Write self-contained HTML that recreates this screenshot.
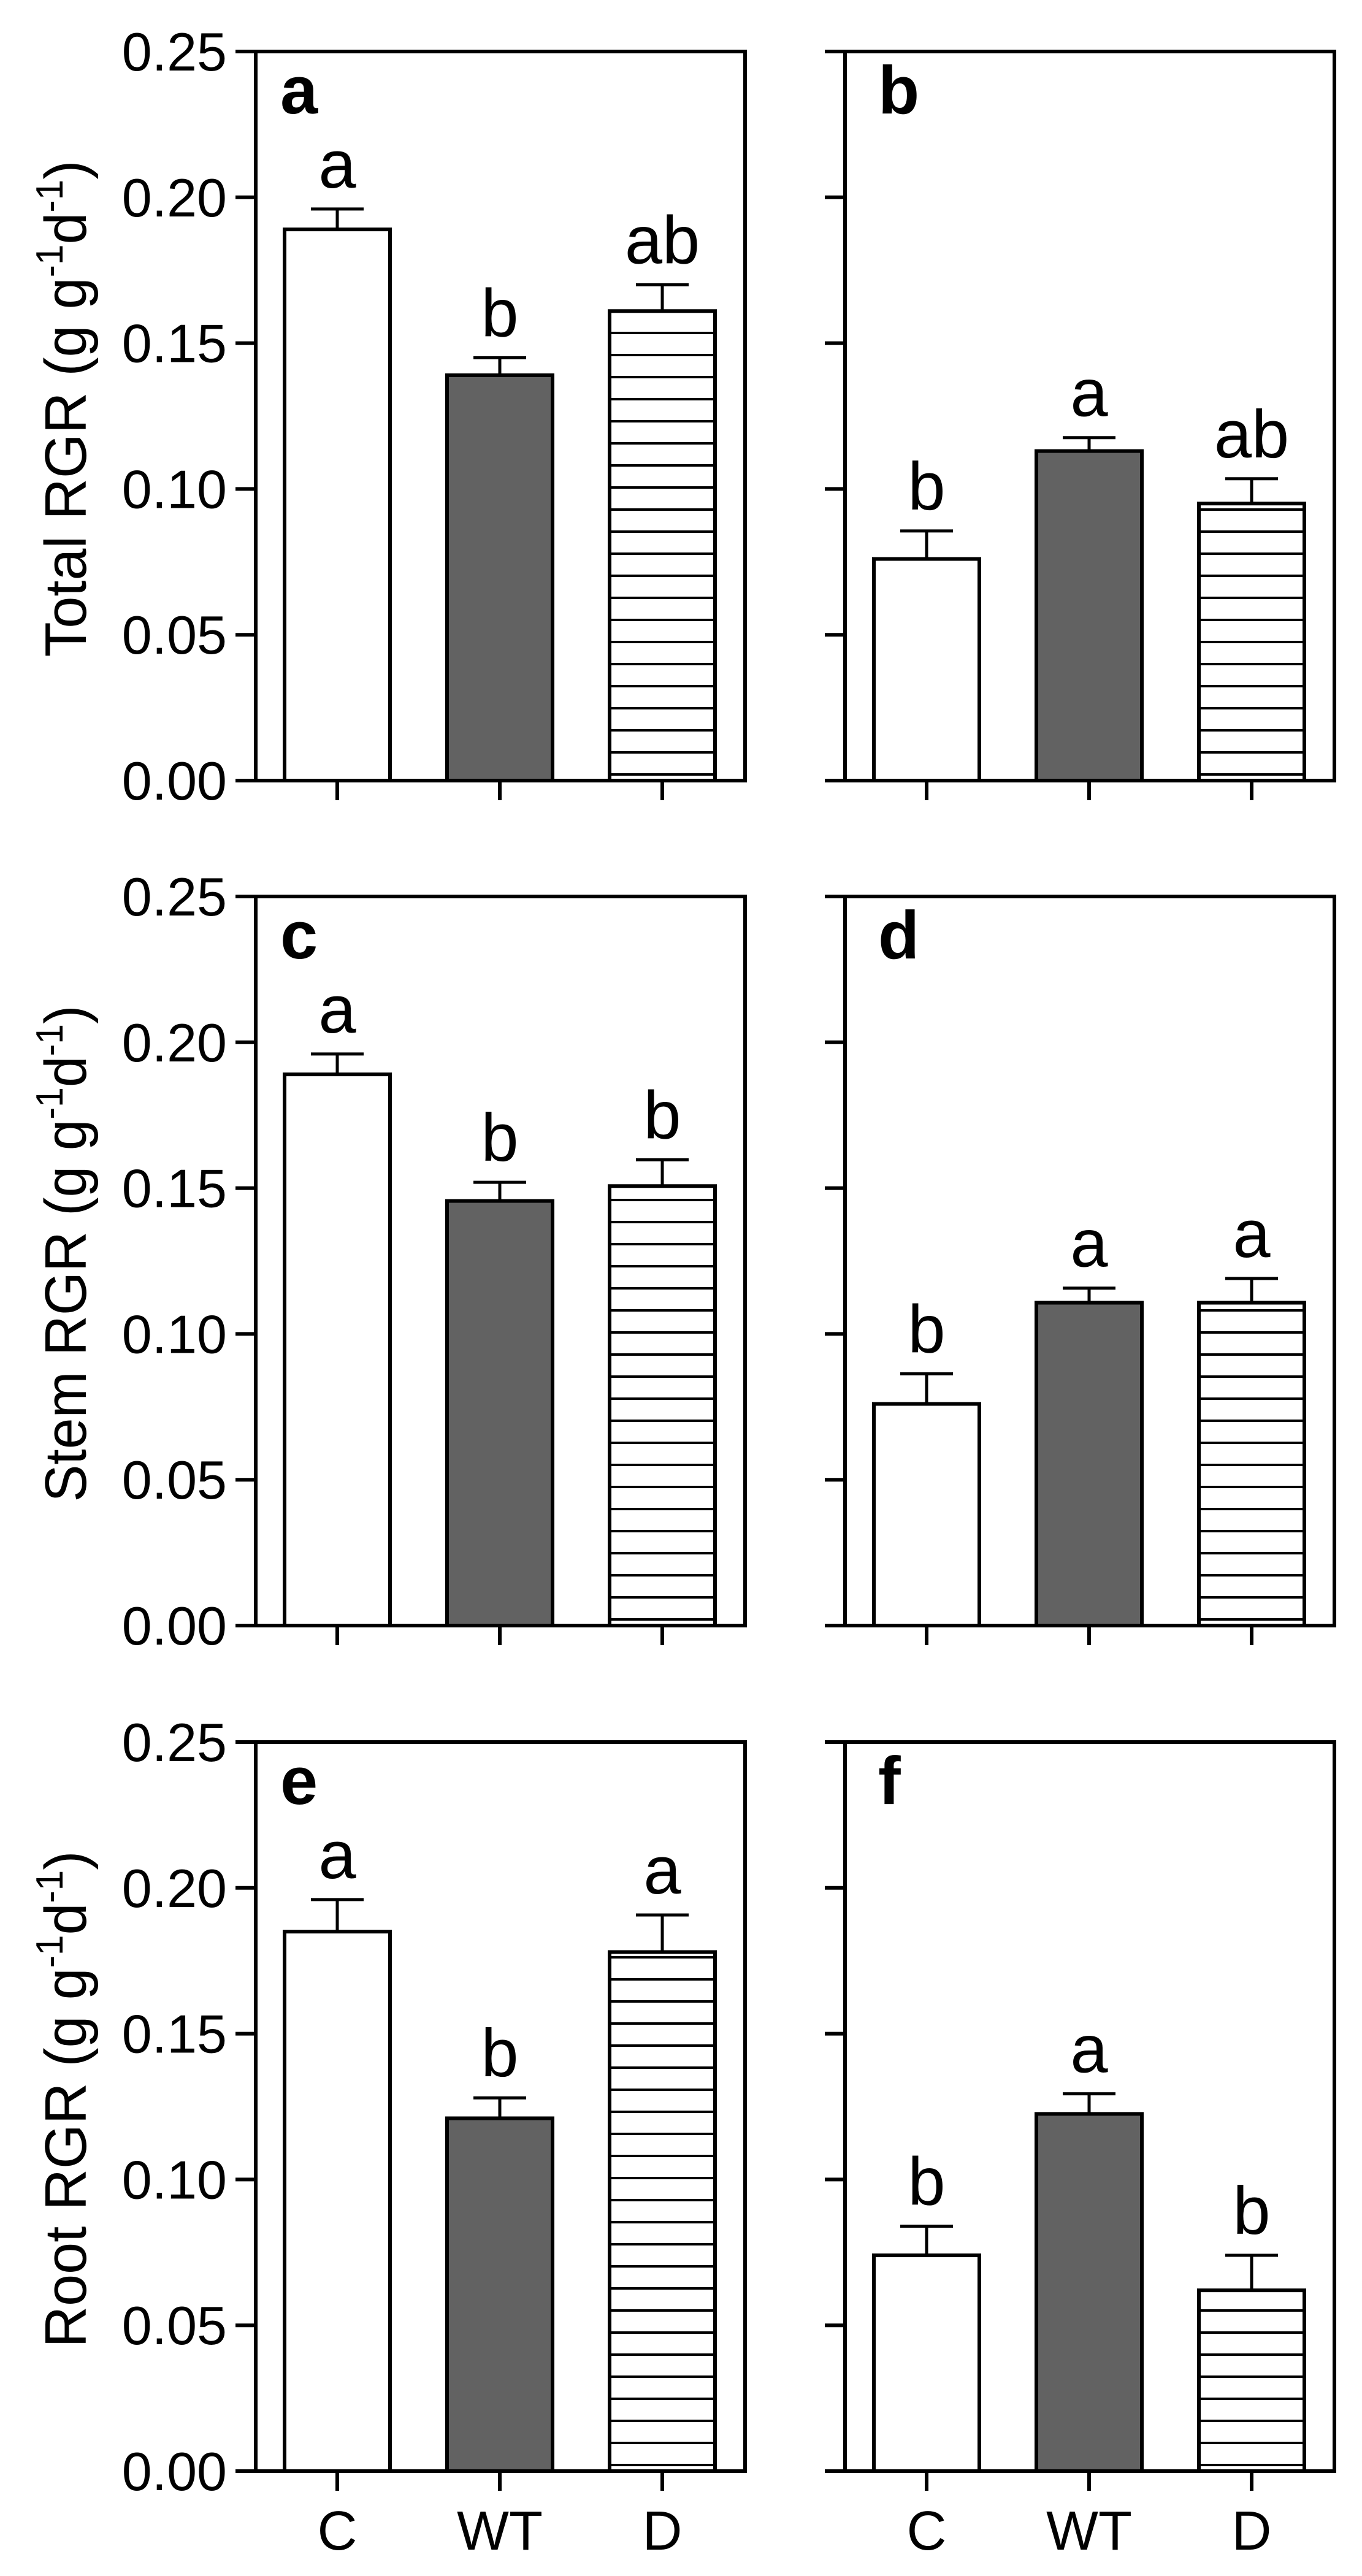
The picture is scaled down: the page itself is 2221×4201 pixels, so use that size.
<!DOCTYPE html>
<html><head><meta charset="utf-8"><style>
html,body{margin:0;padding:0;background:#fff;}
svg{display:block;font-family:"Liberation Sans",Arial,sans-serif;}
</style></head><body>
<svg id="fig" width="2221" height="4201" viewBox="0 0 2221 4201" xmlns="http://www.w3.org/2000/svg">
<defs>
<pattern id="hatch" patternUnits="userSpaceOnUse" width="40" height="36" y="0">
<rect x="0" y="0" width="40" height="4" fill="#000"/>
</pattern>
</defs>
</svg>
<script>
const categories = ["C", "WT", "D"];
const panelLetters = ["a", "b", "c", "d", "e", "f"];
const meanA = [0.189, 0.139, 0.161];
const errA = [0.196, 0.145, 0.170];
const sigA = ["a", "b", "ab"];
const meanB = [0.076, 0.113, 0.095];
const errB = [0.0856, 0.1176, 0.1035];
const sigB = ["b", "a", "ab"];
const meanC = [0.189, 0.1456, 0.1507];
const errC = [0.196, 0.152, 0.1597];
const sigC = ["a", "b", "b"];
const meanD = [0.076, 0.1107, 0.1107];
const errD = [0.0863, 0.1157, 0.119];
const sigD = ["b", "a", "a"];
const meanE = [0.185, 0.121, 0.178];
const errE = [0.196, 0.128, 0.1907];
const sigE = ["a", "b", "a"];
const meanF = [0.074, 0.1225, 0.062];
const errF = [0.084, 0.1294, 0.074];
const sigF = ["b", "a", "b"];
const yTicks = [0, 0.05, 0.10, 0.15, 0.20, 0.25];
const yTickLabels = ["0.00", "0.05", "0.10", "0.15", "0.20", "0.25"];
const yTitles = ["Total RGR", "Stem RGR", "Root RGR"];

const NS = "http://www.w3.org/2000/svg";
const svg = document.getElementById("fig");
function mk(tag, attrs, parent) {
  const e = document.createElementNS(NS, tag);
  for (const k in attrs) e.setAttribute(k, attrs[k]);
  (parent || svg).appendChild(e);
  return e;
}
const means = [meanA, meanB, meanC, meanD, meanE, meanF];
const errs = [errA, errB, errC, errD, errE, errF];
const sigs = [sigA, sigB, sigC, sigD, sigE, sigF];
const colX = [417, 1378];
const rowTop = [84, 1462, 2841];
const W = 798, H = 1189, YMAX = 0.25;
const letterOff = [40, 54];
const fills = ["#ffffff", "#626262", "url(#hatch)"];
const barNames = ["bar-c", "bar-wt", "bar-d"];

for (let p = 0; p < 6; p++) {
  const col = p % 2, row = Math.floor(p / 2);
  const x0 = colX[col], y0 = rowTop[row], yb = y0 + H;
  const yScale = v => yb - (v / YMAX) * H;
  const xScale = i => x0 + 133 + i * 265;
  const g = mk("g", {});
  
  

  // bars
  for (let i = 0; i < 3; i++) {
    const cx = xScale(i), top = yScale(means[p][i]), cap = yScale(errs[p][i]);
    const eb = mk("line", {x1: cx, x2: cx, y1: top, y2: cap, stroke: "#000", "stroke-width": 5}, g);
    
    
    mk("line", {x1: cx - 43, x2: cx + 43, y1: cap, y2: cap, stroke: "#000", "stroke-width": 5}, g);
    if (i === 2) {
      const pid = "hatch" + p;
      const pat = mk("pattern", {id: pid, patternUnits: "userSpaceOnUse", width: 200, height: 36, x: 0, y: (yb - 12) % 36}, svg.querySelector("defs"));
      mk("rect", {x: 0, y: 0, width: 200, height: 4, fill: "#000"}, pat);
      const b = mk("rect", {x: cx - 86, y: top, width: 172, height: yb - top, fill: "#fff", stroke: "none"}, g);
      
      
      const h = mk("rect", {x: cx - 86, y: top, width: 172, height: yb - top, fill: "url(#" + pid + ")", stroke: "#000", "stroke-width": 6}, g);
      
      
    } else {
      const b = mk("rect", {x: cx - 86, y: top, width: 172, height: yb - top, fill: fills[i], stroke: "#000", "stroke-width": 6}, g);
      
      
    }
    const s = mk("text", {x: cx, y: cap - 35, "font-size": 110, "text-anchor": "middle"}, g);
    s.textContent = sigs[p][i];
    
    
    // x ticks
    mk("line", {x1: cx, x2: cx, y1: yb, y2: yb + 32, stroke: "#000", "stroke-width": 6}, g);
    if (row === 2) {
      const xl = mk("text", {x: cx, y: 4158, "font-size": 90, "text-anchor": "middle"}, g);
      xl.textContent = categories[i];
      
      
    }
  }
  // frame
  const fr = mk("rect", {x: x0, y: y0, width: W, height: H, fill: "none", stroke: "#000", "stroke-width": 6}, g);
  
  
  // y ticks
  for (let t = 0; t < yTicks.length; t++) {
    const ty = yScale(yTicks[t]);
    mk("line", {x1: x0 - 33, x2: x0, y1: ty, y2: ty, stroke: "#000", "stroke-width": 6}, g);
    if (col === 0) {
      const tl = mk("text", {x: x0 - 47, y: ty + 31, "font-size": 88, "text-anchor": "end"}, g);
      tl.textContent = yTickLabels[t];
      
      
    }
  }
  // panel letter
  const pl = mk("text", {x: x0 + letterOff[col], y: y0 + 101, "font-size": 110, "font-weight": "bold"}, g);
  pl.textContent = panelLetters[p];
  
  
  // y title
  if (col === 0) {
    const cy = y0 + H / 2 - 12;
    const tt = mk("text", {x: 0, y: 0, "font-size": 96, "text-anchor": "middle", transform: "translate(140," + cy + ") rotate(-90)", textLength: 810, lengthAdjust: "spacingAndGlyphs"}, g);
    
    
    const parts = [[yTitles[row] + " (g g", 0, 96], ["-1", -38, 62], ["d", 38, 96], ["-1", -38, 62], [")", 38, 96]];
    for (const [txt, dy, fs] of parts) {
      const ts = mk("tspan", {dy: dy, "font-size": fs}, tt);
      ts.textContent = txt;
    }
  }
}
</script>
</body></html>
